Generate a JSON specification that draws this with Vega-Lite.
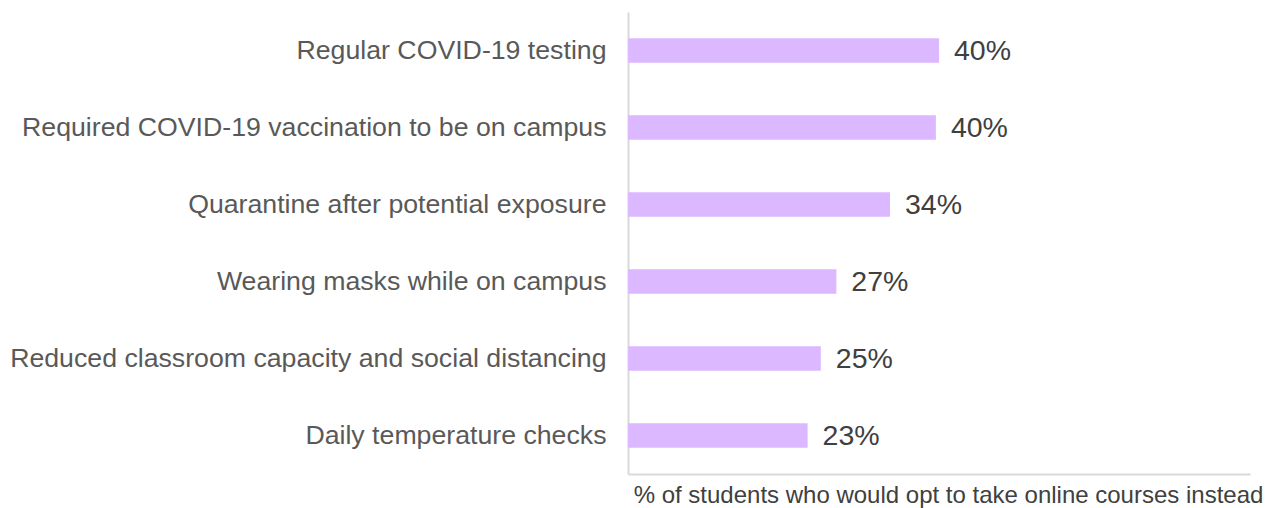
{
  "$schema": "https://vega.github.io/schema/vega-lite/v6.json",
  "autosize": "none",
  "width": 622,
  "height": 462,
  "padding": {"left": 628, "top": 12, "right": 27, "bottom": 34},
  "background": "white",
  "config": {"view": {"stroke": null}, "font": "Liberation Sans"},
  "data": {"values": [
    {"measure": "Regular COVID-19 testing", "share": 0.40},
    {"measure": "Required COVID-19 vaccination to be on campus", "share": 0.396},
    {"measure": "Quarantine after potential exposure", "share": 0.337},
    {"measure": "Wearing masks while on campus", "share": 0.268},
    {"measure": "Reduced classroom capacity and social distancing", "share": 0.248},
    {"measure": "Daily temperature checks", "share": 0.231}
  ]},
  "encoding": {
    "y": {"field": "measure", "type": "nominal", "sort": null,
      "scale": {"paddingInner": 0.68, "paddingOuter": 0.34},
      "axis": {"title": null, "ticks": false, "labelPadding": 22, "labelFontSize": 26.7, "labelColor": "#595959", "labelFont": "Liberation Sans", "domainColor": "#D9D9D9", "domainWidth": 2, "labelLimit": 700}},
    "x": {"field": "share", "type": "quantitative",
      "scale": {"domain": [0, 0.8], "nice": false},
      "axis": {"title": "% of students who would opt to take online courses instead", "labels": false, "ticks": false, "grid": false, "domainColor": "#D9D9D9", "domainWidth": 2, "titleFontSize": 24, "titleFontWeight": "normal", "titleColor": "#404040", "titleFont": "Liberation Sans", "titleX": 320, "titleY": 28, "titleBaseline": "alphabetic", "titleAlign": "center", "titleAnchor": null}}
  },
  "layer": [
    {"mark": {"type": "bar", "color": "#DBB8FF"}},
    {"mark": {"type": "text", "align": "left", "baseline": "middle", "dx": 15, "fontSize": 28.5, "color": "#404040", "font": "Liberation Sans"},
     "encoding": {"text": {"field": "share", "type": "quantitative", "format": ".0%"}}}
  ]
}
